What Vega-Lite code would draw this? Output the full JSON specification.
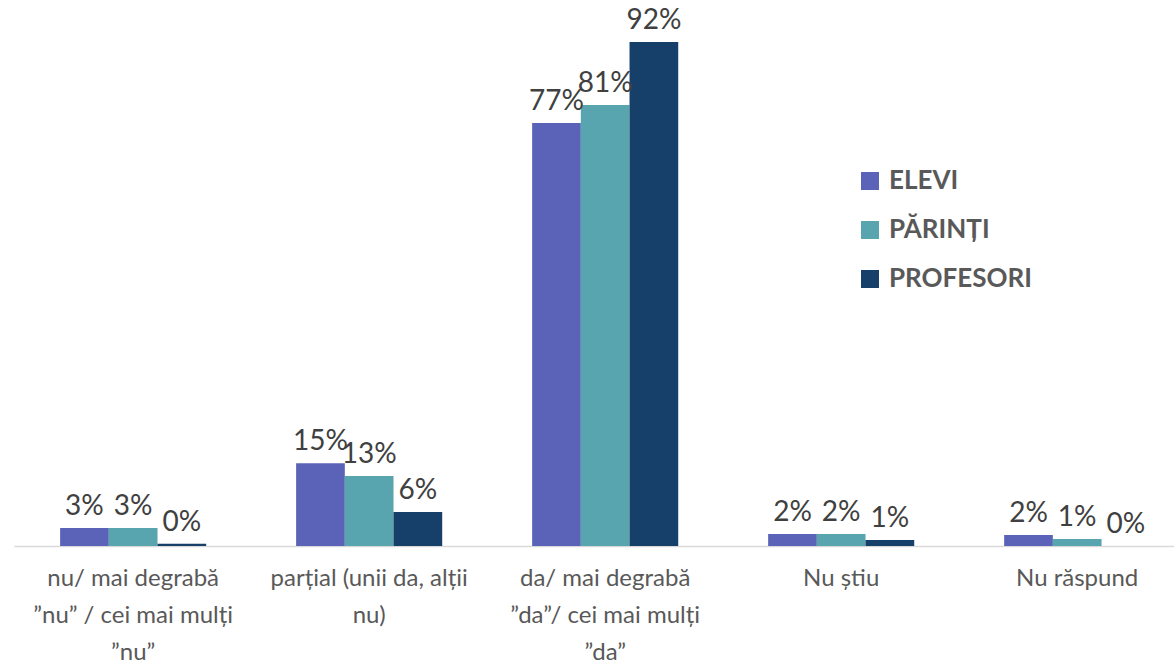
{
  "$schema": "https://vega.github.io/schema/vega-lite/v6.json",
  "width": 1160,
  "height": 504,
  "autosize": {"type": "none"},
  "padding": {"left": 14, "top": 42, "right": 0, "bottom": 121},
  "background": "white",
  "config": {"view": {"stroke": null}, "font": "Lato"},
  "data": {
    "values": [
      {"cat": "nu/ mai degrabă|”nu” / cei mai mulți|”nu”", "grp": "ELEVI", "v": 0.033},
      {"cat": "nu/ mai degrabă|”nu” / cei mai mulți|”nu”", "grp": "PĂRINȚI", "v": 0.033},
      {"cat": "nu/ mai degrabă|”nu” / cei mai mulți|”nu”", "grp": "PROFESORI", "v": 0.004},
      {"cat": "parțial (unii da, alții|nu)", "grp": "ELEVI", "v": 0.151},
      {"cat": "parțial (unii da, alții|nu)", "grp": "PĂRINȚI", "v": 0.128},
      {"cat": "parțial (unii da, alții|nu)", "grp": "PROFESORI", "v": 0.062},
      {"cat": "da/ mai degrabă|”da”/ cei mai mulți|”da”", "grp": "ELEVI", "v": 0.772},
      {"cat": "da/ mai degrabă|”da”/ cei mai mulți|”da”", "grp": "PĂRINȚI", "v": 0.805},
      {"cat": "da/ mai degrabă|”da”/ cei mai mulți|”da”", "grp": "PROFESORI", "v": 0.92},
      {"cat": "Nu știu", "grp": "ELEVI", "v": 0.022},
      {"cat": "Nu știu", "grp": "PĂRINȚI", "v": 0.022},
      {"cat": "Nu știu", "grp": "PROFESORI", "v": 0.011},
      {"cat": "Nu răspund", "grp": "ELEVI", "v": 0.02},
      {"cat": "Nu răspund", "grp": "PĂRINȚI", "v": 0.013},
      {"cat": "Nu răspund", "grp": "PROFESORI", "v": 0.0}
    ]
  },
  "encoding": {
    "x": {
      "field": "cat",
      "type": "nominal",
      "sort": null,
      "scale": {"paddingInner": 0.381, "paddingOuter": 0.148, "align": 0.66},
      "axis": {
        "title": null,
        "labelAngle": 0,
        "ticks": false,
        "domainColor": "#d9d9d9",
        "domainWidth": 1.5,
        "labelFontSize": 24,
        "labelColor": "#595959",
        "labelPadding": 20,
        "labelLineHeight": 37,
        "labelBaseline": "top",
        "labelLimit": 0,
        "labelExpr": "split(datum.label, '|')"
      }
    },
    "xOffset": {
      "field": "grp",
      "type": "nominal",
      "sort": ["ELEVI", "PĂRINȚI", "PROFESORI"],
      "scale": {"paddingInner": 0, "paddingOuter": 0}
    },
    "y": {
      "field": "v",
      "type": "quantitative",
      "scale": {"domain": [0, 0.92], "nice": false},
      "axis": null
    }
  },
  "layer": [
    {
      "mark": {"type": "bar"},
      "encoding": {
        "color": {
          "field": "grp",
          "type": "nominal",
          "sort": ["ELEVI", "PĂRINȚI", "PROFESORI"],
          "scale": {"domain": ["ELEVI", "PĂRINȚI", "PROFESORI"], "range": ["#5B63B8", "#58A4AF", "#163F69"]},
          "legend": {
            "orient": "none",
            "legendX": 843,
            "legendY": 126,
            "title": null,
            "labelFontSize": 26,
            "labelFontWeight": "bold",
            "labelColor": "#595959",
            "symbolType": "square",
            "symbolSize": 324,
            "symbolStrokeWidth": 0,
            "rowPadding": 23,
            "labelOffset": 6
          }
        }
      }
    },
    {
      "mark": {"type": "text", "baseline": "bottom", "dy": -7, "fontSize": 28, "color": "#404040"},
      "encoding": {
        "text": {"field": "v", "type": "quantitative", "format": ".0%"}
      }
    }
  ]
}
